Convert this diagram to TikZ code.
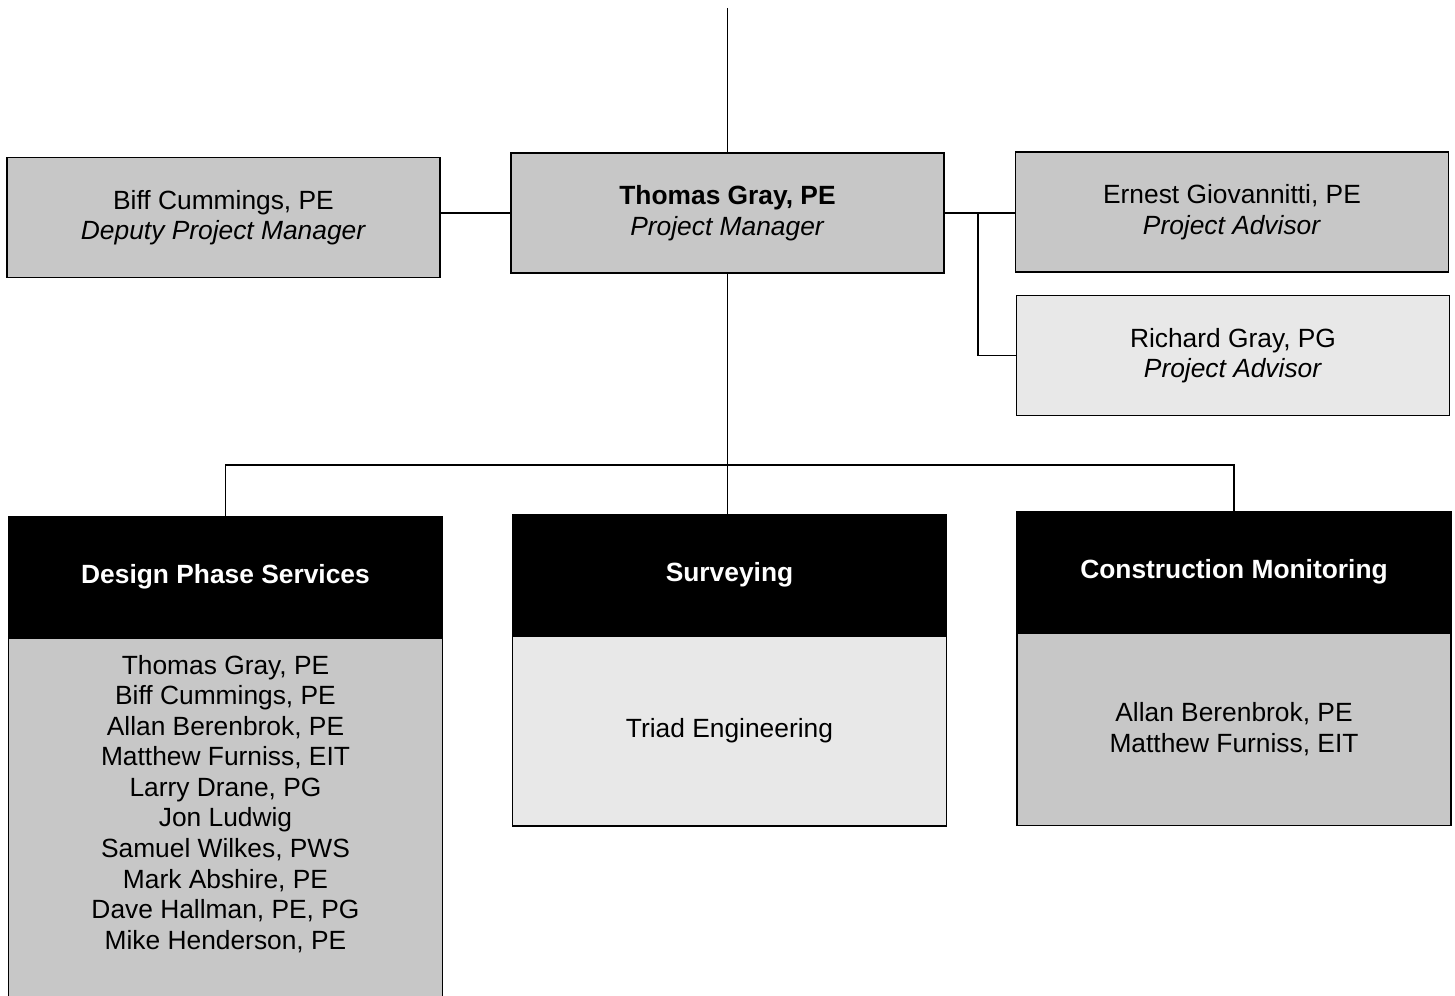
\documentclass[tikz,border=0pt]{standalone}
\usepackage{fontspec}
\setmainfont{Liberation Sans}
\usetikzlibrary{positioning}
\tikzset{
  person/.style={draw, line width=0.8pt, fill=black!22, minimum width=8.66cm,
    minimum height=2.4cm, inner sep=0pt, align=center,
    font=\fontsize{15}{17.4}\selectfont},
  lightperson/.style={person, fill=black!9},
  headbox/.style={draw, line width=0.8pt, fill=black, text=white,
    minimum width=8.68cm, minimum height=2.4cm, inner sep=0pt,
    font=\fontsize{15}{17.4}\selectfont\bfseries},
  bodybox/.style={draw, line width=0.8pt, fill=black!22, minimum width=8.68cm,
    inner sep=0pt, align=center, font=\fontsize{15}{17.4}\selectfont},
  wire/.style={line width=0.8pt},
}
\begin{document}
\begin{tikzpicture}[x=0.02cm, y=-0.02cm]
  \useasboundingbox (0,0) rectangle (1455,996);

  % Define the people
  \node[person] (biff) at (223.5, 217.5) {Biff Cummings, PE\\\textit{Deputy Project Manager}};
  \node[person] (pm) at (727.5, 213) {\textbf{Thomas Gray, PE}\\\textit{Project Manager}};
  \node[person] (ernest) at (1232, 212) {Ernest Giovannitti, PE\\\textit{Project Advisor}};
  \node[lightperson] (richard) at (1233, 355.5) {Richard Gray, PG\\\textit{Project Advisor}};

  % Define the service groups
  \node[headbox] (dhead) at (225.5, 577) {Design Phase Services};
  \node[bodybox, minimum height=7.16cm, below=0pt of dhead] (dbody) {Thomas Gray, PE\\Biff Cummings, PE\\Allan Berenbrok, PE\\Matthew Furniss, EIT\\Larry Drane, PG\\Jon Ludwig\\Samuel Wilkes, PWS\\Mark Abshire, PE\\Dave Hallman, PE, PG\\Mike Henderson, PE\\\mbox{}};
  \node[headbox] (shead) at (729.5, 574.5) {Surveying};
  \node[bodybox, fill=black!9, minimum height=3.8cm, below=0pt of shead] (sbody) {Triad Engineering};
  \node[headbox] (chead) at (1234, 572) {Construction Monitoring};
  \node[bodybox, minimum height=3.84cm, below=0pt of chead] (cbody) {Allan Berenbrok, PE\\Matthew Furniss, EIT};

  % Helper points
  \coordinate (top) at (727.5, 8);
  \coordinate (split) at (978, 0);
  \coordinate (bus) at (0, 465);

  % Draw the links
  \draw[wire] (top) -- (pm.north);
  \draw[wire] (pm.west) -- (pm.west -| biff.east);
  \draw[wire] (pm.east) -- (pm.east -| ernest.west);
  \draw[wire] (pm.east -| split) |- (richard.west);
  \draw[wire] (pm.south) -- (pm.south |- shead.north);
  \draw[wire] (dhead.north) -- (dhead.north |- bus) -- (chead.north |- bus) -- (chead.north);
\end{tikzpicture}
\end{document}
